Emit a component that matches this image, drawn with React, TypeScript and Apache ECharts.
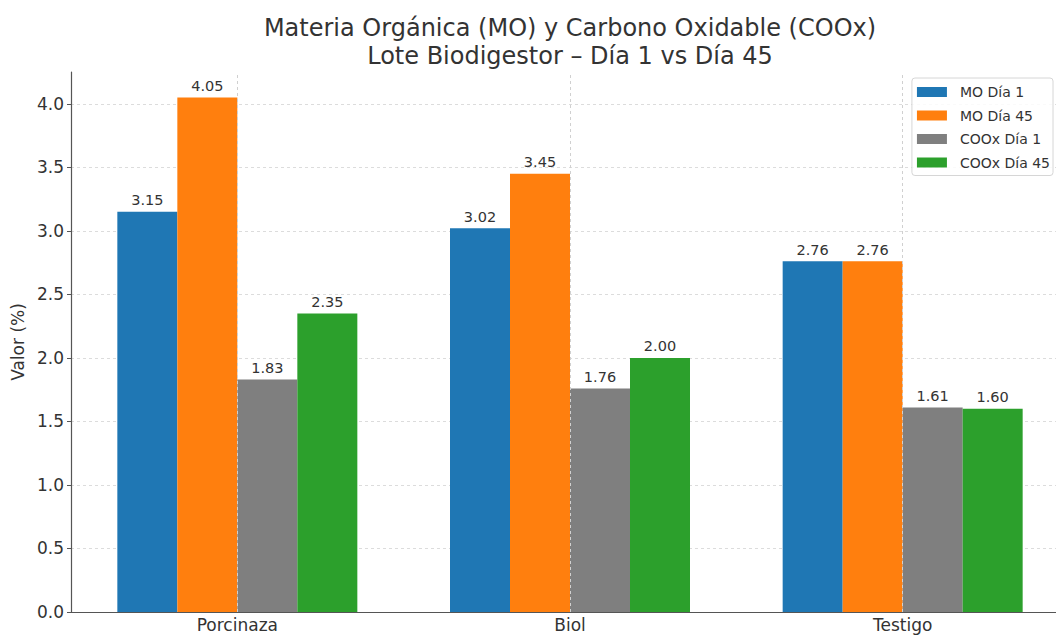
import React, { useEffect, useRef } from "react";
import * as echarts from "echarts";

const categories = ["Porcinaza", "Biol", "Testigo"];
const seriesNames = ["MO Día 1", "MO Día 45", "COOx Día 1", "COOx Día 45"];
const moDia1 = [3.15, 3.02, 2.76];
const moDia45 = [4.05, 3.45, 2.76];
const cooxDia1 = [1.83, 1.76, 1.61];
const cooxDia45 = [2.35, 2.0, 1.6];
const colors = ["#1f77b4", "#ff7f0e", "#7f7f7f", "#2ca02c"];
const titleLines = [
  "Materia Orgánica (MO) y Carbono Oxidable (COOx)",
  "Lote Biodigestor – Día 1 vs Día 45",
];

const FONT = "DejaVu Sans";

export default function App() {
  const ref = useRef<HTMLDivElement>(null);

  useEffect(() => {
    if (!ref.current) return;
    const chart = echarts.init(ref.current, null, { renderer: "svg" });
    const values = [moDia1, moDia45, cooxDia1, cooxDia45];

    const bars = values.map((data, i) => ({
      name: seriesNames[i],
      type: "bar",
      data,
      barWidth: 60,
      barGap: "0%",
      z: 3,
      itemStyle: { color: colors[i] },
      label: {
        show: true,
        position: "top",
        distance: 4,
        formatter: (p: any) => Number(p.value).toFixed(2),
        fontFamily: FONT,
        fontSize: 14.5,
        color: "#333",
      },
    }));

    // vertical grid lines through each category centre
    const vGrid = {
      name: "_grid",
      type: "line",
      data: [],
      z: 1,
      silent: true,
      markLine: {
        silent: true,
        symbol: "none",
        label: { show: false },
        lineStyle: { color: "#d0d0d0", type: [3, 3], width: 1 },
        data: categories.map((c) => ({ xAxis: c })),
      },
    };

    chart.setOption({
      animation: false,
      textStyle: { fontFamily: FONT },
      graphic: titleLines.map((t, i) => ({
        type: "text",
        x: 570,
        y: 28 + i * 28,
        style: {
          text: t,
          fontFamily: FONT,
          fontSize: 24,
          fill: "#333",
          textAlign: "center",
          textVerticalAlign: "middle",
        },
      })),
      legend: {
        data: seriesNames,
        orient: "vertical",
        right: 16,
        top: 78,
        itemWidth: 30,
        itemHeight: 10,
        itemGap: 9.5,
        icon: "rect",
        padding: [7, 3, 6, 5],
        borderColor: "#d6d6d6",
        borderWidth: 1,
        borderRadius: 3,
        backgroundColor: "rgba(255,255,255,0.85)",
        textStyle: { fontFamily: FONT, fontSize: 14, color: "#333", padding: [0, 0, 0, 8] },
      },
      grid: {
        left: 71,
        right: 0,
        top: 72,
        bottom: 23,
        containLabel: false,
        outerBoundsMode: "none",
      },
      xAxis: {
        type: "category",
        data: categories,
        axisLine: { lineStyle: { color: "#555", width: 1.2 } },
        axisTick: { alignWithLabel: true, length: 4, lineStyle: { color: "#555" } },
        axisLabel: { fontFamily: FONT, fontSize: 17, color: "#333", margin: 4 },
        splitLine: { show: false },
      },
      yAxis: {
        type: "value",
        min: 0,
        max: 4.25,
        interval: 0.5,
        name: "Valor (%)",
        nameLocation: "middle",
        nameGap: 43,
        nameTextStyle: { fontFamily: FONT, fontSize: 17, color: "#333" },
        axisLine: { show: true, lineStyle: { color: "#555", width: 1.2 } },
        axisTick: { show: true, length: 4, lineStyle: { color: "#555" } },
        axisLabel: {
          fontFamily: FONT,
          fontSize: 17,
          color: "#333",
          margin: 7,
          showMaxLabel: false,
          formatter: (v: number) => v.toFixed(1),
        },
        splitLine: {
          show: true,
          showMaxLine: false,
          lineStyle: { color: "#dcdcdc", type: [3, 3] },
        },
      },
      series: [vGrid, ...bars],
    });
    return () => chart.dispose();
  }, []);

  return (
    <div
      style={{
        position: "fixed",
        left: 0,
        top: 0,
        width: 1056,
        height: 635,
        overflow: "hidden",
        background: "#fff",
      }}
    >
      <div ref={ref} style={{ width: 1069, height: 635 }} />
    </div>
  );
}
